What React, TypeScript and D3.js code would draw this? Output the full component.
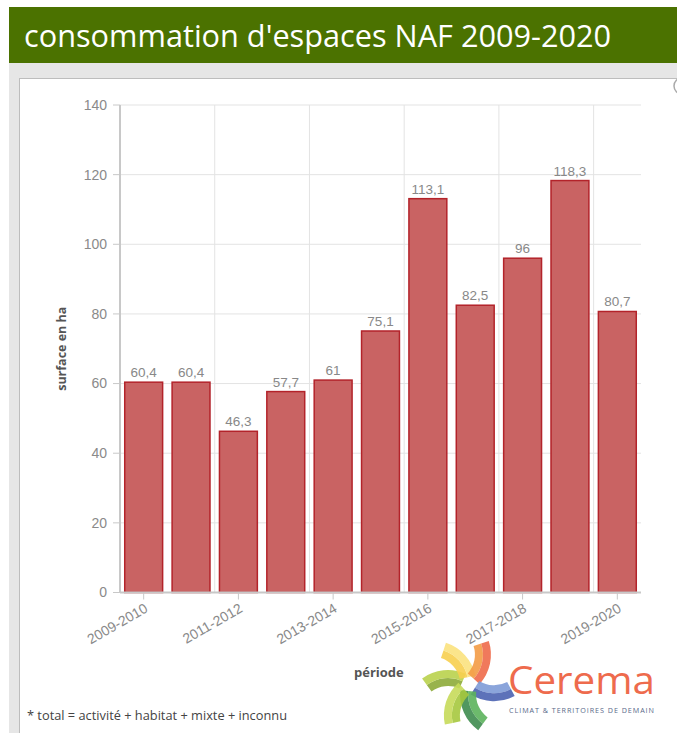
import React, { useEffect } from 'react';
import { scaleBand, scaleLinear, arc } from 'd3';

const categories = [
  '2009-2010', '2010-2011', '2011-2012', '2012-2013', '2013-2014', '2014-2015',
  '2015-2016', '2016-2017', '2017-2018', '2018-2019', '2019-2020',
];
const values = [60.4, 60.4, 46.3, 57.7, 61, 75.1, 113.1, 82.5, 96, 118.3, 80.7];
const yTicks = [0, 20, 40, 60, 80, 100, 120, 140];
const xTickLabels = ['2009-2010', '2011-2012', '2013-2014', '2015-2016', '2017-2018', '2019-2020'];

const W = 677;
const H = 733;
const plot = { left: 120, right: 641, top: 105, bottom: 592.5 };
const axisFont = "'Liberation Sans', Arial, sans-serif";
const textFont = "'Open Sans', sans-serif";

// cerema logo arms: direction (deg, clockwise from up) and the two strip colours
const logoArms = [
  { dir: -66, cols: ['#8dab3a', '#b9d14c'] },
  { dir: -12, cols: ['#f7cf4f', '#fbe27e'] },
  { dir: 42, cols: ['#f39b45', '#ee6a4a'] },
  { dir: 122, cols: ['#7e9bd7', '#4b63b1'] },
  { dir: 186, cols: ['#5cb35c', '#3e8c4f'] },
  { dir: 228, cols: ['#a6c83e', '#c6da5a'] },
];

const App = () => {
  useEffect(() => {
    document.body.style.margin = '0';
  }, []);

  const x = scaleBand().domain(categories).range([plot.left, plot.right]).paddingInner(0.2).paddingOuter(0.1);
  const y = scaleLinear().domain([0, 140]).range([plot.bottom, plot.top]);
  const step = x.step();
  const gridX = categories
    .map((c, i) => i)
    .filter(i => i > 0 && i % 2 === 0)
    .map(i => (x(categories[i]) as number) - step * 0.1);

  const lc = { x: 469, y: 684 };
  const band = arc();
  const R = 36;
  const s = 7;
  const sweep = 60 * Math.PI / 180;

  return (
    <svg width={W} height={H} style={{ display: 'block' }}>
      <rect x={0} y={0} width={W} height={H} fill="#fff" />
      {/* header */}
      <rect x={9} y={7} width={W - 9} height={56} fill="#4b7200" />
      <text x={24} y={47} fill="#fff" fontFamily={textFont} fontSize={30.7}>
        consommation d'espaces NAF 2009-2020
      </text>
      {/* panel */}
      <rect x={9} y={63} width={W - 9} height={H - 63} fill="#e6e6e6" />
      <rect x={19.5} y={78.5} width={680} height={680} fill="#fff" stroke="#bdbdbd" />
      <circle cx={682} cy={86} r={8} fill="#fff" stroke="#aaa" strokeWidth={1.5} />

      {/* grid */}
      {yTicks.map(t => (
        <line key={'gy' + t} x1={plot.left} x2={plot.right} y1={y(t)} y2={y(t)} stroke="#e3e3e3" />
      ))}
      {gridX.map(gx => (
        <line key={'gx' + gx} x1={gx} x2={gx} y1={plot.top} y2={plot.bottom} stroke="#e3e3e3" />
      ))}

      {/* bars */}
      {values.map((v, i) => (
        <g key={categories[i]}>
          <rect
            x={x(categories[i])}
            y={y(v)}
            width={x.bandwidth()}
            height={y(0) - y(v)}
            fill="#c96363"
            stroke="#b3232a"
            strokeWidth={1.5}
          />
          <text
            x={(x(categories[i]) as number) + x.bandwidth() / 2}
            y={y(v) - 5}
            textAnchor="middle"
            fill="#888"
            fontFamily={axisFont}
            fontSize={13.5}
          >
            {String(v).replace('.', ',')}
          </text>
        </g>
      ))}

      {/* y axis */}
      <line x1={plot.left} x2={plot.left} y1={plot.top} y2={plot.bottom} stroke="#c8c8c8" strokeWidth={2} />
      {yTicks.map(t => (
        <g key={'yt' + t}>
          <line x1={plot.left - 7} x2={plot.left} y1={y(t)} y2={y(t)} stroke="#c8c8c8" />
          <text x={plot.left - 13} y={y(t)} dy="0.35em" textAnchor="end" fill="#8a8a8a"
            fontFamily={axisFont} fontSize={14}>
            {t}
          </text>
        </g>
      ))}
      <text
        transform={`translate(66,${(plot.top + plot.bottom) / 2}) rotate(-90)`}
        textAnchor="middle"
        fill="#555"
        fontWeight="bold"
        fontFamily={textFont}
        fontSize={12.5}
      >
        surface en ha
      </text>

      {/* x axis */}
      <line x1={plot.left} x2={plot.right} y1={plot.bottom} y2={plot.bottom} stroke="#c8c8c8" strokeWidth={2} />
      {xTickLabels.map(c => {
        const cx = (x(c) as number) + x.bandwidth() / 2;
        return (
          <g key={'xt' + c}>
            <line x1={cx} x2={cx} y1={plot.bottom} y2={plot.bottom + 7} stroke="#c8c8c8" />
            <g transform={`translate(${cx},${plot.bottom + 10})`}>
              <text
                transform="rotate(-30)"
                textAnchor="end"
                dy="0.71em"
                fill="#8a8a8a"
                fontFamily={axisFont}
                fontSize={14}
              >
                {c}
              </text>
            </g>
          </g>
        );
      })}
      <text x={354} y={677} fill="#555" fontWeight="bold" fontFamily={textFont} fontSize={13}>
        période
      </text>

      {/* logo */}
      <g transform={`translate(${lc.x},${lc.y})`}>
        {logoArms.map(arm => {
          const t = arm.dir * Math.PI / 180;
          const ux = Math.sin(t), uy = -Math.cos(t);
          const vx = Math.sin(t + Math.PI / 2), vy = -Math.cos(t + Math.PI / 2);
          const px = s * ux - R * vx;
          const py = s * uy - R * vy;
          return (
            <g key={'arm' + arm.dir} transform={`translate(${px},${py})`}>
              {arm.cols.map((col, j) => (
                <path
                  key={col}
                  d={band({
                    innerRadius: R - 8 + j * 8,
                    outerRadius: R + j * 8,
                    startAngle: t + Math.PI / 2 - sweep,
                    endAngle: t + Math.PI / 2,
                  }) as string}
                  fill={col}
                  opacity={0.9}
                />
              ))}
            </g>
          );
        })}
      </g>
      <text x={508} y={694} fill="#ee6b4d" fontFamily={textFont} fontSize={39}
        textLength={147} lengthAdjust="spacingAndGlyphs">
        Cerema
      </text>
      <text x={509} y={713} fill="#5a6a8a" fontFamily={textFont} fontSize={7.2}
        textLength={145} lengthAdjust="spacing">
        CLIMAT &amp; TERRITOIRES DE DEMAIN
      </text>

      {/* footnote */}
      <text x={27} y={720} fill="#444" fontFamily={textFont} fontSize={12.5}
        textLength={260} lengthAdjust="spacingAndGlyphs">
        * total = activité + habitat + mixte + inconnu
      </text>
    </svg>
  );
};

export default App;
